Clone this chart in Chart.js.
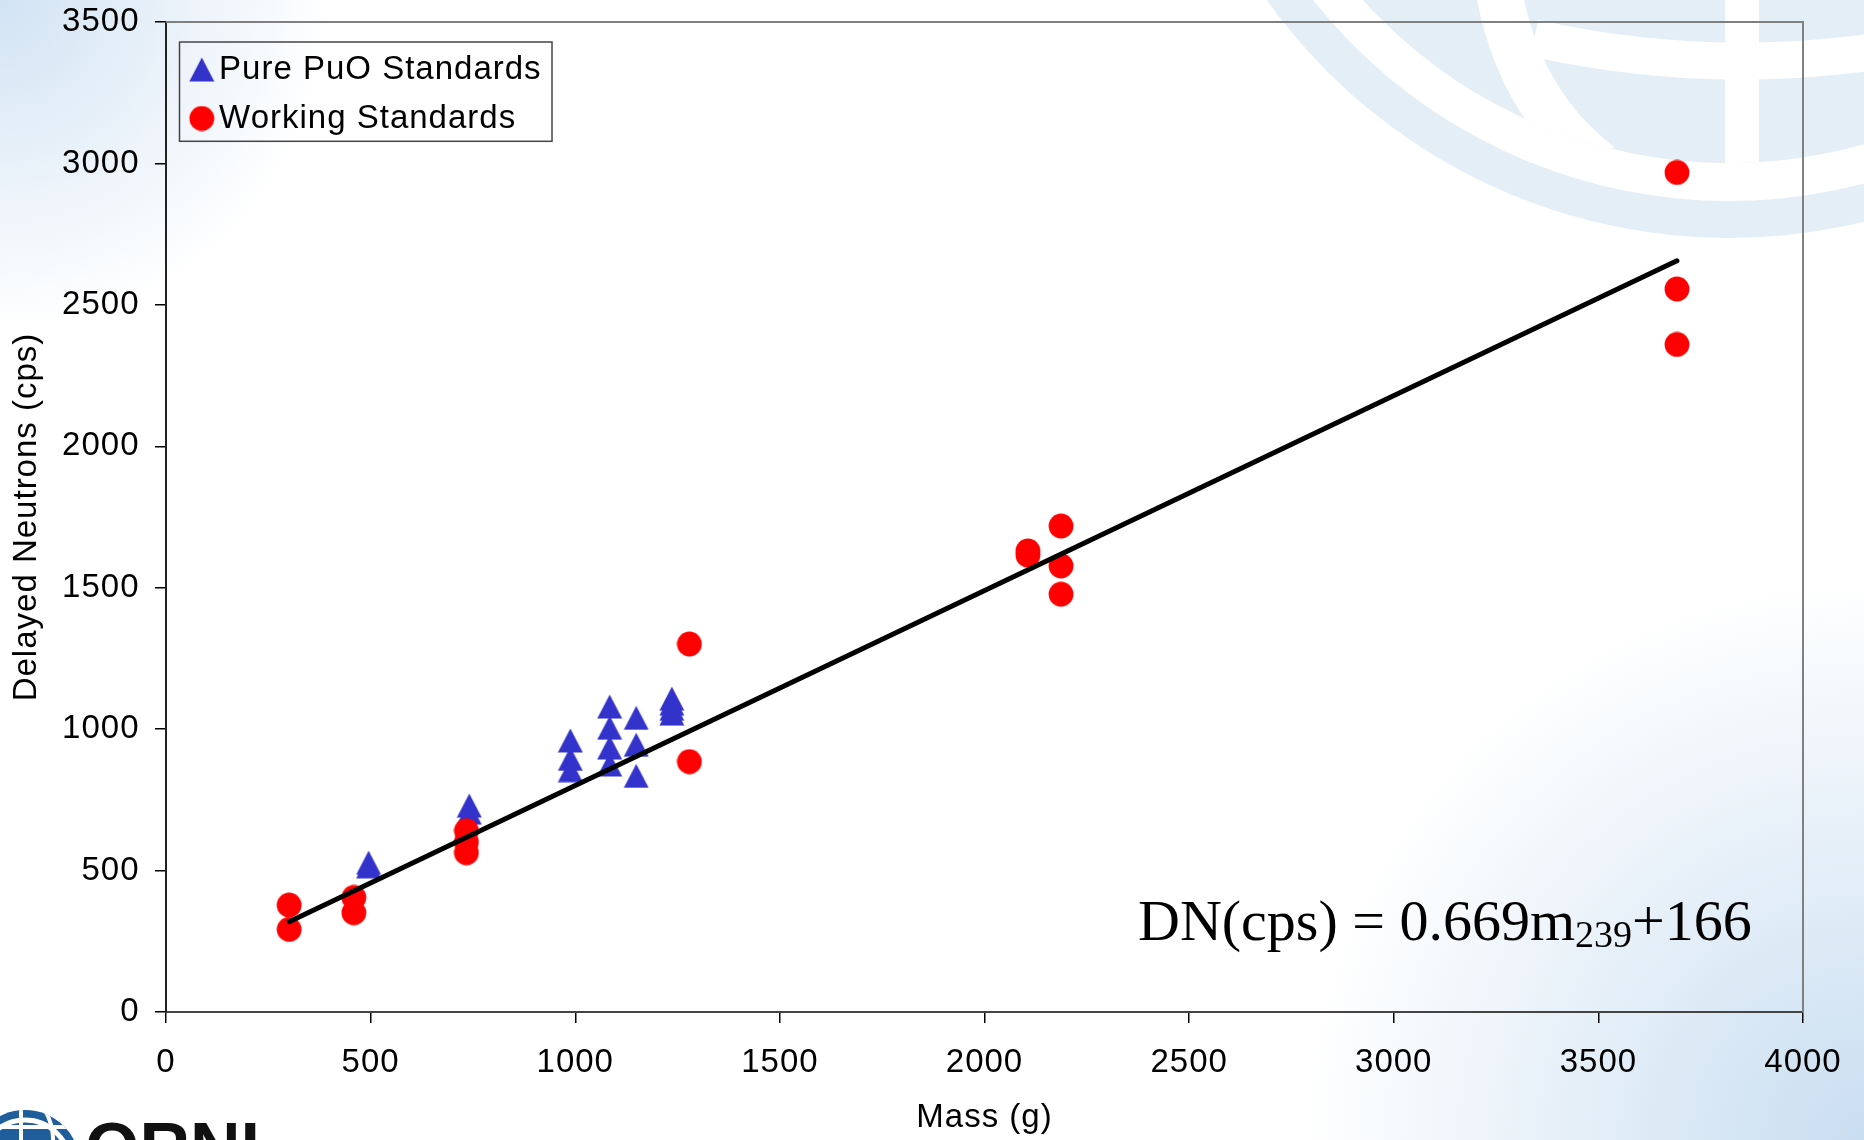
<!DOCTYPE html>
<html>
<head>
<meta charset="utf-8">
<script src="https://cdn.jsdelivr.net/npm/chart.js@4.4.1/dist/chart.umd.min.js"></script>
<style>
  html, body { margin: 0; padding: 0; background: #fff; overflow: hidden; }
  canvas { display: block; }
</style>
</head>
<body>
<canvas id="c" width="1864" height="1140"></canvas>
<script>
// ---------------- data ----------------
const seriesLabels = ['Pure PuO Standards', 'Working Standards'];

const pureMass = [495, 495, 741, 741, 988, 988, 988, 1084, 1084, 1084, 1084, 1149, 1149, 1149, 1236, 1236, 1236, 1236];
const pureDN   = [528, 515, 730, 705, 960, 895, 855, 1080, 1005, 935, 875, 1040, 945, 835, 1108, 1090, 1072, 1055];

const workMass = [301, 301, 459, 459, 734, 734, 734, 1279, 1279, 2106, 2106, 2187, 2187, 2187, 3692, 3692, 3692];
const workDN   = [378, 292, 405, 351, 641, 601, 563, 1301, 885, 1630, 1615, 1718, 1577, 1477, 2968, 2556, 2360];

const fitMass = [301, 3692];
const fitDN   = [319, 2656];

const xTickValues = [0, 500, 1000, 1500, 2000, 2500, 3000, 3500, 4000];
const yTickValues = [0, 500, 1000, 1500, 2000, 2500, 3000, 3500];

const xTitle = 'Mass (g)';
const yTitle = 'Delayed Neutrons (cps)';
const eqMain = 'DN(cps) = 0.669m';
const eqSub  = '239';
const eqTail = '+166';

// ---------------- styles ----------------
const SANS = "'Liberation Sans', Arial, Helvetica, sans-serif";
const SERIF = "'Liberation Serif', 'Times New Roman', serif";
const BLUE = '#3333cc';
const RED = '#ff0000';

function makeTriangle(color) {
  const c = document.createElement('canvas');
  c.width = 26; c.height = 25;
  const g = c.getContext('2d');
  g.fillStyle = color;
  g.beginPath();
  g.moveTo(13, 0.5); g.lineTo(25.5, 24.5); g.lineTo(0.5, 24.5); g.closePath();
  g.fill();
  return c;
}
function makeCircle(color) {
  const c = document.createElement('canvas');
  c.width = 26; c.height = 26;
  const g = c.getContext('2d');
  g.fillStyle = color;
  g.beginPath(); g.arc(13, 13, 12.4, 0, Math.PI * 2); g.fill();
  return c;
}
const triImg = makeTriangle(BLUE);
const cirImg = makeCircle(RED);

function toPoints(xs, ys) { return xs.map((x, i) => ({ x: x, y: ys[i] })); }

// ---------------- decorations ----------------
function drawWatermark(ctx) {
  const col = '#e3eef6';
  const cx = 1729, cy = -330;
  ctx.save();
  ctx.fillStyle = col;
  ctx.beginPath();
  ctx.arc(cx, cy, 568, 0, Math.PI * 2);
  ctx.arc(cx, cy, 531, 0, Math.PI * 2, true);
  ctx.fill('evenodd');
  ctx.beginPath();
  ctx.arc(cx, cy, 493, 0, Math.PI * 2);
  ctx.fill();
  ctx.beginPath();
  ctx.arc(cx, cy, 493, 0, Math.PI * 2);
  ctx.clip();
  ctx.fillStyle = '#fff';
  ctx.fillRect(1725, -10, 34, 300);
  ctx.strokeStyle = '#fff';
  ctx.lineWidth = 37;
  ctx.beginPath();
  ctx.arc(1742, -894, 955, 1.40, 1.79);
  ctx.stroke();
  ctx.lineWidth = 46;
  ctx.beginPath();
  ctx.moveTo(1497, -20);
  ctx.quadraticCurveTo(1515, 100, 1600, 165);
  ctx.stroke();
  ctx.restore();
}

function drawLogo(ctx) {
  ctx.save();
  ctx.letterSpacing = '0px';
  ctx.fillStyle = '#1f5e9a';
  ctx.beginPath(); ctx.arc(25, 1165, 55, 0, Math.PI * 2); ctx.fill();
  ctx.strokeStyle = '#ffffff';
  ctx.lineWidth = 5;
  ctx.beginPath(); ctx.arc(25, 1165, 45, 0, Math.PI * 2); ctx.stroke();
  ctx.beginPath(); ctx.arc(25, 1165, 55, 0, Math.PI * 2); ctx.clip();
  ctx.lineWidth = 4;
  ctx.beginPath(); ctx.moveTo(-40, 1127); ctx.lineTo(90, 1127); ctx.stroke();
  ctx.beginPath(); ctx.moveTo(21, 1100); ctx.lineTo(21, 1150); ctx.stroke();
  ctx.beginPath(); ctx.moveTo(45, 1110); ctx.quadraticCurveTo(56, 1130, 52, 1150); ctx.stroke();
  ctx.restore();
  ctx.save();
  ctx.letterSpacing = '0px';
  ctx.fillStyle = '#111';
  ctx.font = 'bold 70px ' + SANS;
  ctx.textBaseline = 'alphabetic';
  ctx.textAlign = 'left';
  ctx.fillText('ORNL', 85, 1172);
  ctx.restore();
}

// the reference text is slightly wider than Arial at its height
const textSpacingPlugin = {
  id: 'textSpacing',
  beforeUpdate(chart) { chart.ctx.letterSpacing = '1px'; },
  beforeDraw(chart) { chart.ctx.letterSpacing = '1px'; }
};

const backgroundPlugin = {
  id: 'backgroundPlugin',
  beforeDraw(chart) {
    const ctx = chart.ctx;
    const W = chart.width, H = chart.height;
    ctx.save();
    ctx.fillStyle = '#ffffff';
    ctx.fillRect(0, 0, W, H);
    let g = ctx.createRadialGradient(0, 0, 0, 0, 0, 330);
    g.addColorStop(0, 'rgba(205,224,242,0.9)');
    g.addColorStop(1, 'rgba(205,224,242,0)');
    ctx.fillStyle = g; ctx.fillRect(0, 0, 400, 400);
    g = ctx.createRadialGradient(W, H, 0, W, H, 560);
    g.addColorStop(0, 'rgba(198,220,240,0.95)');
    g.addColorStop(1, 'rgba(198,220,240,0)');
    ctx.fillStyle = g; ctx.fillRect(W - 600, H - 600, 600, 600);
    drawWatermark(ctx);
    drawLogo(ctx);
    ctx.restore();
  }
};

const framePlugin = {
  id: 'framePlugin',
  afterLayout(chart) {
    const lg = chart.legend, ca = chart.chartArea;
    if (!lg) return;
    lg.left = ca.left + 19;
    lg.top = ca.top + 15;
    lg.right = ca.right;
    lg.bottom = ca.bottom;
  },
  beforeDatasetsDraw(chart) {
    const ctx = chart.ctx, ca = chart.chartArea;
    ctx.save();
    ctx.strokeStyle = '#808080';
    ctx.lineWidth = 2;
    ctx.beginPath();
    ctx.moveTo(ca.left, ca.top);
    ctx.lineTo(ca.right, ca.top);
    ctx.lineTo(ca.right, ca.bottom);
    ctx.stroke();
    ctx.strokeStyle = '#444';
    ctx.lineWidth = 1.5;
    ctx.strokeRect(ca.left + 13.5, ca.top + 20, 372.5, 99.3);
    ctx.restore();
  },
  afterDatasetsDraw(chart) {
    const ctx = chart.ctx;
    ctx.save();
    ctx.letterSpacing = '0px';
    ctx.fillStyle = '#000';
    ctx.textBaseline = 'alphabetic';
    ctx.textAlign = 'left';
    let x = 1138;
    ctx.font = '58px ' + SERIF;
    ctx.fillText(eqMain, x, 940);
    x += ctx.measureText(eqMain).width;
    ctx.font = '38px ' + SERIF;
    ctx.fillText(eqSub, x, 947);
    x += ctx.measureText(eqSub).width;
    ctx.font = '58px ' + SERIF;
    ctx.fillText(eqTail, x, 940);
    ctx.restore();
  }
};

Chart.defaults.font.family = SANS;
Chart.defaults.color = '#000';

new Chart(document.getElementById('c'), {
  type: 'scatter',
  data: {
    datasets: [
      {
        label: seriesLabels[0],
        data: toPoints(pureMass, pureDN),
        pointStyle: triImg,
        pointRadius: 12,
        pointHoverRadius: 12,
        backgroundColor: BLUE,
        borderColor: BLUE,
        order: 3
      },
      {
        label: seriesLabels[1],
        data: toPoints(workMass, workDN),
        pointStyle: cirImg,
        pointRadius: 12,
        pointHoverRadius: 12,
        backgroundColor: RED,
        borderColor: RED,
        order: 2
      },
      {
        label: 'fit',
        data: toPoints(fitMass, fitDN),
        showLine: true,
        borderColor: '#000',
        borderWidth: 5,
        borderCapStyle: 'round',
        pointRadius: 0,
        pointHoverRadius: 0,
        fill: false,
        order: 1
      }
    ]
  },
  options: {
    responsive: false,
    animation: false,
    devicePixelRatio: 1,
    layout: { padding: { top: 22, right: 61, left: 0, bottom: 0 } },
    plugins: {
      tooltip: { enabled: false },
      legend: {
        position: 'chartArea',
        align: 'start',
        labels: {
          usePointStyle: true,
          pointStyleWidth: 1.6,
          padding: 16,
          color: '#000',
          font: { size: 33, family: SANS },
          filter: (item) => item.datasetIndex !== 2,
          sort: (a, b) => a.datasetIndex - b.datasetIndex
        }
      }
    },
    scales: {
      x: {
        type: 'linear',
        min: 0,
        max: 4000,
        afterBuildTicks: (axis) => { axis.ticks = xTickValues.map(v => ({ value: v })); },
        afterFit: (scale) => { scale.height = 128; scale.paddingLeft = 0; scale.paddingRight = 0; },
        grid: { display: true, drawOnChartArea: false, drawTicks: true, tickLength: 11, color: '#000', lineWidth: 1.5 },
        border: { display: true, color: '#444', width: 2 },
        ticks: { padding: 20, color: '#000', font: { size: 33 }, maxRotation: 0, autoSkip: false, callback: (v) => String(v) },
        title: { display: true, text: xTitle, color: '#000', font: { size: 33 }, padding: { top: 0, bottom: 2 } }
      },
      y: {
        type: 'linear',
        min: 0,
        max: 3500,
        afterBuildTicks: (axis) => { axis.ticks = yTickValues.map(v => ({ value: v })); },
        afterFit: (scale) => { scale.width = 166; scale.paddingTop = 0; scale.paddingBottom = 0; },
        grid: { display: true, drawOnChartArea: false, drawTicks: true, tickLength: 11, color: '#000', lineWidth: 1.5 },
        border: { display: true, color: '#222', width: 2 },
        ticks: { padding: 15.5, color: '#000', font: { size: 33 }, autoSkip: false, callback: (v) => String(v) },
        title: { display: true, text: yTitle, color: '#000', font: { size: 33 }, padding: { top: 7, bottom: 0 } }
      }
    }
  },
  plugins: [textSpacingPlugin, backgroundPlugin, framePlugin]
});
</script>
</body>
</html>
